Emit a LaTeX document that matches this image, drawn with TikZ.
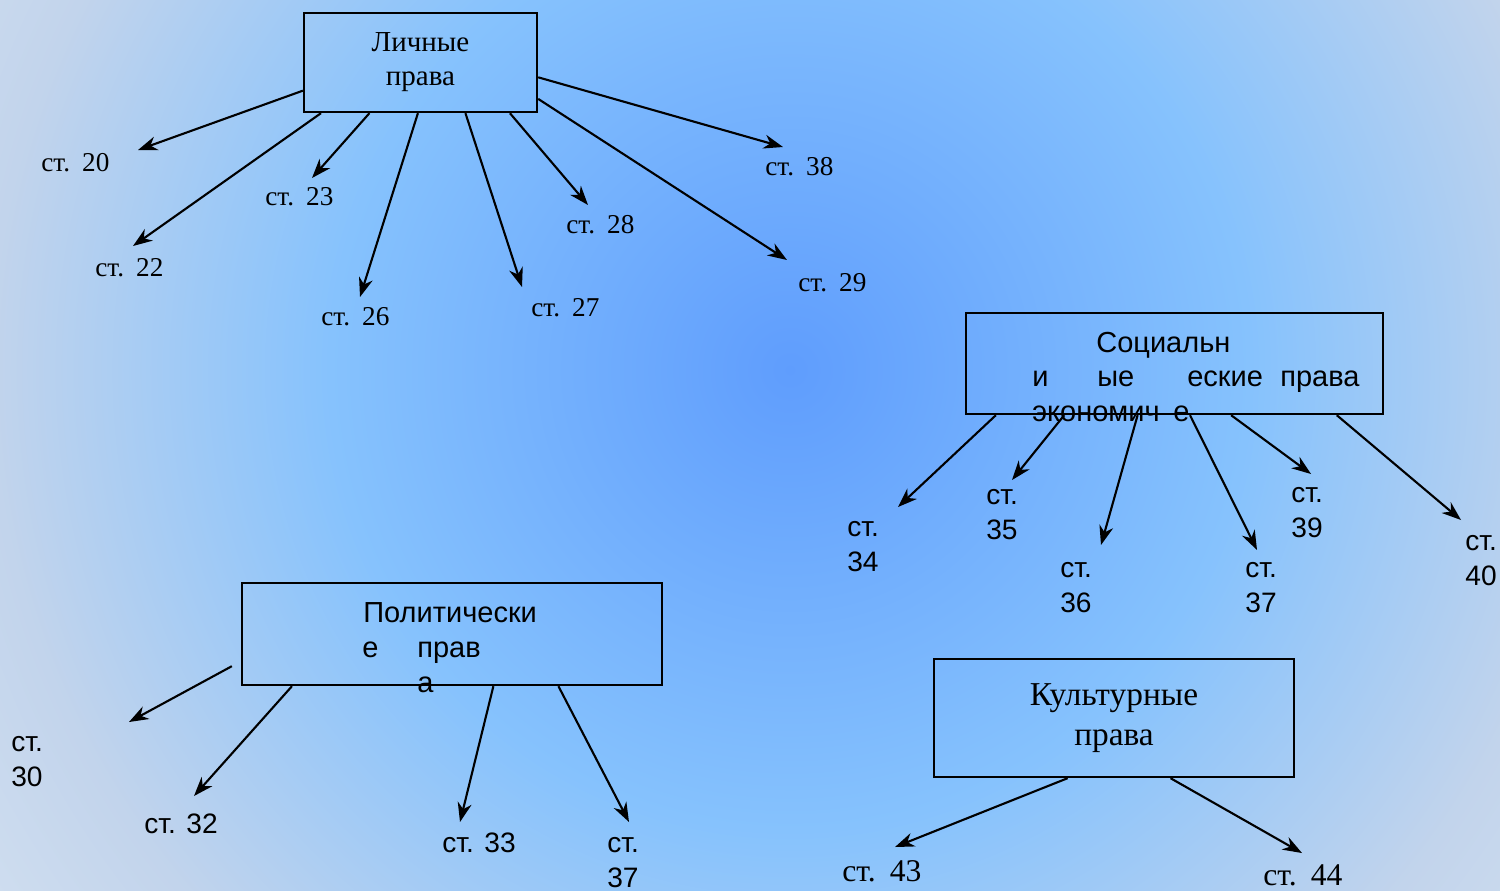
\documentclass[tikz,border=0pt]{standalone}
\usepackage{fontspec}
\setmainfont{Liberation Serif}
\setsansfont{Liberation Sans}
\usetikzlibrary{arrows.meta,calc,positioning}

\pgfdeclareradialshading{slide}{\pgfpoint{0bp}{0bp}}{%
  rgb(0bp)=(0.373,0.616,0.992);
  rgb(11.5bp)=(0.525,0.761,0.992);
  rgb(20bp)=(0.761,0.831,0.925);
  rgb(25bp)=(0.824,0.878,0.941);
  rgb(50bp)=(0.824,0.878,0.941)}
\definecolor{bgedge}{rgb}{0.824,0.878,0.941}

\tikzset{
  box/.style={draw,line width=1.35pt,rectangle,inner sep=0pt,align=center},
  arr/.style={line width=1.2pt,-{Stealth[length=11pt,width=8pt,inset=3.5pt]}},
  lbl/.style={anchor=base west,inner sep=0pt,
    font={\fontsize{15.5}{18}\selectfont\spaceskip.36em\relax}},
  big lbl/.style={lbl,font={\fontsize{18}{21}\selectfont\spaceskip.36em\relax}},
  slbl/.style={anchor=base west,inner sep=0pt,align=left,
    font=\sffamily\fontsize{16}{19.6}\selectfont},
  btxt/.style={slbl,font=\sffamily\fontsize{16.5}{19.6}\selectfont}
}

\begin{document}
\begin{tikzpicture}[x=0.02cm,y=-0.02cm]
\useasboundingbox (0,0) rectangle (1500,890);
\begin{scope}
\clip (0,0) rectangle (1500,890);
\fill[bgedge] (0,0) rectangle (1500,890);
\shade[shading=slide] (790,370) circle (1000);
\end{scope}

% boxes
\node[box,minimum width=4.66cm,minimum height=1.98cm,
  font=\fontsize{16.5}{19.3}\selectfont] (lich) at (420.5,62.5) {Личные\\права};
\node[box,minimum width=8.34cm,minimum height=2.02cm] (soc) at (1174.5,363.5) {};
\node[box,minimum width=8.4cm,minimum height=2.04cm] (pol) at (452,634) {};
\node[box,minimum width=7.2cm,minimum height=2.36cm,
  font=\fontsize{19}{22.8}\selectfont] (kult) at (1114,718) {Культурные\\права};

% broken box texts
\foreach \x/\y/\w in {1096/352/Социальн,1032/386/и,1097/386/ые,1187/386/еские,
  1280/386/права,1032/421/экономич,1173/421/е,
  363/622/Политически,362/657/е,417/657/прав,417/692/а}
  \node[btxt] at (\x,\y) {\w};

% arrow tips
\coordinate (l20) at (138,150);
\coordinate (l22) at (133,246);
\coordinate (l23) at (312,178);
\coordinate (l26) at (360,297);
\coordinate (l27) at (522,287);
\coordinate (l28) at (588,205);
\coordinate (l38) at (783,147);
\coordinate (l29) at (787,260);
\coordinate (s34) at (898,507);
\coordinate (s35) at (1012,480);
\coordinate (s36) at (1101,545);
\coordinate (s37) at (1257,550);
\coordinate (s39) at (1311,474);
\coordinate (s40) at (1461,520);
\coordinate (p30) at (129,722);
\coordinate (p32) at (194,796);
\coordinate (p33) at (460,822);
\coordinate (p37) at (629,822);
\coordinate (k43) at (895,847);
\coordinate (k44) at (1302,853);

% labels (two-line ones sit on their last line)
\node[lbl] at (41,171) {ст. 20};
\node[lbl] at (95,276) {ст. 22};
\node[lbl] at (265,205) {ст. 23};
\node[lbl] at (321,325) {ст. 26};
\node[lbl] at (531,316) {ст. 27};
\node[lbl] at (566,233) {ст. 28};
\node[lbl] at (765,175) {ст. 38};
\node[lbl] at (798,291) {ст. 29};
\node[big lbl] at (842,881) {ст. 43};
\node[big lbl] at (1263,885) {ст. 44};
\node[slbl] at (847,571) {ст.\\34};
\node[slbl] at (986,539) {ст.\\35};
\node[slbl] at (1060,612) {ст.\\36};
\node[slbl] at (1245,612) {ст.\\37};
\node[slbl] at (1291,537) {ст.\\39};
\node[slbl] at (1465,585) {ст.\\40};
\node[slbl] at (11,786) {ст.\\30};
\node[slbl] at (144,833) {ст. 32};
\node[slbl] at (442,852) {ст. 33};
\node[slbl] at (607,887) {ст.\\37};

% arrows
\draw[arr] ($(lich.north west)!.778!(lich.south west)$) -- (l20);
\foreach \f/\t in {.077/22,.283/23,.489/26,.691/27,.88/28}
  \draw[arr] ($(lich.south west)!\f!(lich.south east)$) -- (l\t);
\draw[arr] ($(lich.north east)!.646!(lich.south east)$) -- (l38);
\draw[arr] ($(lich.north east)!.859!(lich.south east)$) -- (l29);
\foreach \f/\t in {.074/34,.237/35,.412/36,.537/37,.635/39,.887/40}
  \draw[arr] ($(soc.south west)!\f!(soc.south east)$) -- (s\t);
\draw[arr] ([shift={(-9,-20)}]pol.south west) -- (p30);
\foreach \f/\t in {.121/32,.598/33,.752/37}
  \draw[arr] ($(pol.south west)!\f!(pol.south east)$) -- (p\t);
\foreach \f/\t in {.372/43,.656/44}
  \draw[arr] ($(kult.south west)!\f!(kult.south east)$) -- (k\t);
\end{tikzpicture}
\end{document}
